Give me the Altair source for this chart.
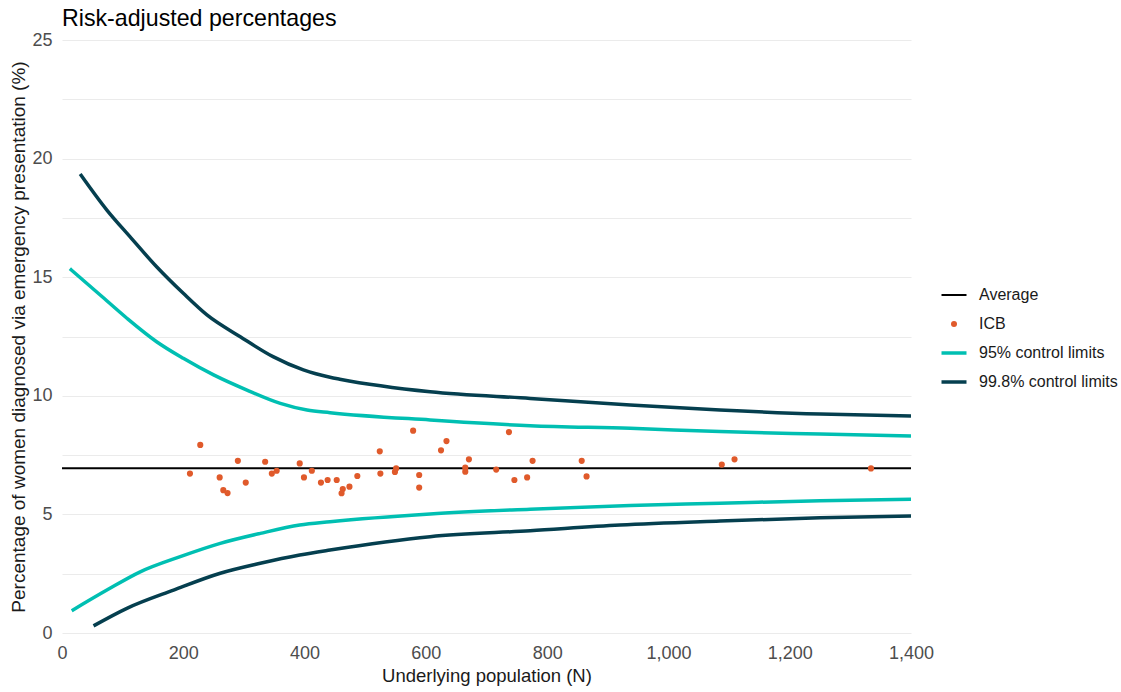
import altair as alt
import pandas as pd

# ---- data ----
series_names = ["Average", "ICB", "95% control limits", "99.8% control limits"]
series_colors = ["#000000", "#E05A2B", "#00BFB2", "#053F4F"]

average_value = 6.95

icb_n = [211, 228, 260, 266, 273, 290, 303, 335, 346, 354, 392, 399, 412, 427,
         438, 453, 463, 461, 474, 487, 524, 525, 549, 551, 579, 589, 589, 625,
         634, 665, 665, 671, 716, 737, 746, 767, 776, 857, 865, 1088, 1109, 1334]
icb_pct = [6.72, 7.93, 6.56, 6.02, 5.90, 7.26, 6.34, 7.22, 6.72, 6.84, 7.15, 6.56,
           6.84, 6.34, 6.45, 6.45, 6.07, 5.89, 6.17, 6.62, 7.66, 6.72, 6.79, 6.94,
           8.53, 6.66, 6.13, 7.70, 8.09, 6.97, 6.80, 7.32, 6.89, 8.47, 6.45, 6.56,
           7.26, 7.26, 6.60, 7.10, 7.32, 6.94]

upper998_n = [30, 74, 112, 156, 200, 239, 294, 348, 398, 442, 458, 607, 772, 937, 1085, 1250, 1400]
upper998_pct = [19.35, 17.83, 16.71, 15.44, 14.32, 13.41, 12.49, 11.65, 11.09, 10.78,
                10.70, 10.17, 9.89, 9.61, 9.40, 9.23, 9.15]

upper95_n = [13, 63, 107, 156, 200, 250, 305, 360, 404, 442, 607, 772, 937, 1085, 1250, 1400]
upper95_pct = [15.36, 14.25, 13.27, 12.28, 11.58, 10.88, 10.24, 9.68, 9.40, 9.29,
               8.98, 8.74, 8.63, 8.49, 8.39, 8.31]

lower95_n = [16, 74, 129, 195, 261, 327, 392, 442, 607, 772, 937, 1085, 1250, 1400]
lower95_pct = [0.94, 1.81, 2.58, 3.22, 3.78, 4.20, 4.55, 4.69, 5.02, 5.22, 5.38,
               5.47, 5.58, 5.64]

lower998_n = [52, 107, 184, 261, 327, 392, 442, 607, 772, 920, 1085, 1250, 1400]
lower998_pct = [0.30, 1.04, 1.81, 2.52, 2.94, 3.29, 3.50, 4.06, 4.31, 4.55, 4.72,
                4.86, 4.93]

x_ticks = [0, 200, 400, 600, 800, 1000, 1200, 1400]
y_grid = [0, 2.5, 5, 7.5, 10, 12.5, 15, 17.5, 20, 22.5, 25]

# ---- tables ----
avg_df = pd.DataFrame({"N": [0, 1400], "pct": [average_value] * 2, "series": "Average"})
icb_df = pd.DataFrame({"N": icb_n, "pct": icb_pct, "series": "ICB"})
limit_parts = []
for n, p, s, b in [
    (upper95_n, upper95_pct, "95% control limits", "u95"),
    (lower95_n, lower95_pct, "95% control limits", "l95"),
    (upper998_n, upper998_pct, "99.8% control limits", "u998"),
    (lower998_n, lower998_pct, "99.8% control limits", "l998"),
]:
    limit_parts.append(pd.DataFrame({"N": n, "pct": p, "series": s, "bound": b}))
lim_df = pd.concat(limit_parts, ignore_index=True)

FONT = "Liberation Sans"

color = alt.Color(
    "series:N",
    scale=alt.Scale(domain=series_names, range=series_colors),
    legend=alt.Legend(
        title=None,
        orient="none",
        legendX=884,
        legendY=247,
        labelFont=FONT,
        labelFontSize=16,
        labelColor="#1a1a1a",
        labelOffset=17,
        rowPadding=13,
        symbolType={"expr": "datum.value === 'ICB' ? 'circle' : 'stroke'"},
        symbolSize={"expr": "datum.value === 'ICB' ? 36 : 625"},
        symbolStrokeWidth={"expr": "datum.value === 'ICB' ? 0 : (datum.value === 'Average' ? 2 : 3.5)"},
        symbolOpacity=1,
    ),
)

x_enc = alt.X(
    "N:Q",
    scale=alt.Scale(domain=[0, 1400], nice=False),
    axis=alt.Axis(
        title="Underlying population (N)",
        values=x_ticks,
        format=",.0f",
        grid=False,
        ticks=False,
        domain=False,
        labelFont=FONT,
        labelFontSize=18,
        labelColor="#4D4D4D",
        labelPadding=11,
        labelFlush=False,
        titleFont=FONT,
        titleFontSize=18.5,
        titleFontWeight="normal",
        titleColor="#1a1a1a",
        titlePadding=4,
    ),
)
y_enc = alt.Y(
    "pct:Q",
    scale=alt.Scale(domain=[0, 25], nice=False),
    axis=alt.Axis(
        title="Percentage of women diagnosed via emergency presentation (%)",
        values=y_grid,
        labelExpr="datum.value % 5 === 0 ? datum.label : ''",
        grid=True,
        gridColor="#EBEBEB",
        gridWidth=1,
        ticks=False,
        domain=False,
        labelFont=FONT,
        labelFontSize=18,
        labelColor="#4D4D4D",
        labelPadding=10,
        titleFont=FONT,
        titleFontSize=19,
        titleFontWeight="normal",
        titleColor="#1a1a1a",
        titlePadding=3,
    ),
)

limits = alt.Chart(lim_df).mark_line(strokeWidth=3.5, interpolate="monotone").encode(
    x=x_enc, y=y_enc, color=color, detail="bound:N"
)
avg = alt.Chart(avg_df).mark_line(strokeWidth=2).encode(x=x_enc, y=y_enc, color=color)
pts = alt.Chart(icb_df).mark_circle(size=38, opacity=1).encode(x=x_enc, y=y_enc, color=color)

chart = (
    alt.layer(limits, avg, pts)
    .properties(
        width=849,
        height=593,
        title=alt.TitleParams(
            "Risk-adjusted percentages",
            anchor="start",
            frame="group",
            font=FONT,
            fontSize=23.2,
            fontWeight="normal",
            color="#000000",
            offset=0,
        ),
        autosize=alt.AutoSizeParams(type="none"),
        padding={"left": 62, "top": 40, "right": 210, "bottom": 59},
        background="white",
    )
    .configure_view(stroke=None)
)

chart.save("out.html", embed_options={"renderer": "svg", "actions": False})
